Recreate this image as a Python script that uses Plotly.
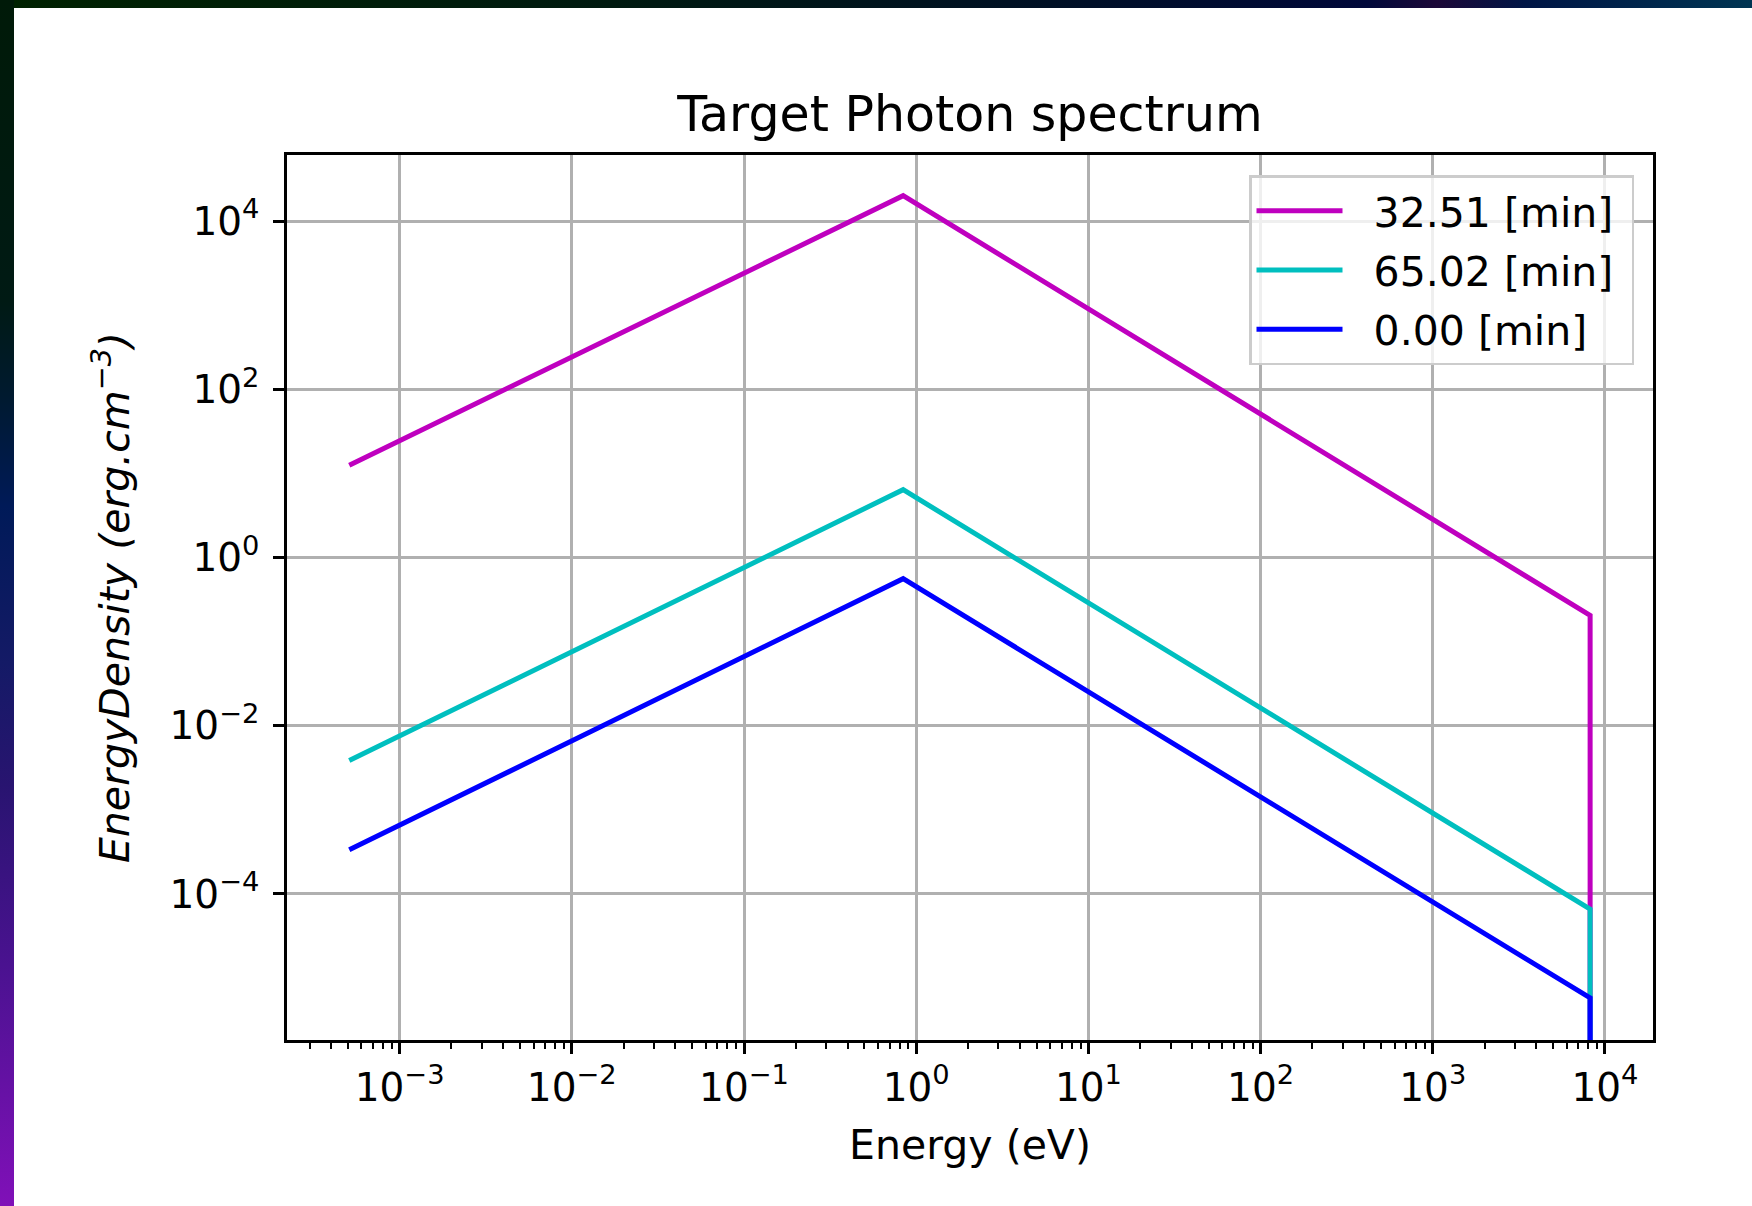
import base64
import plotly.graph_objects as go

# ---------------- data ----------------
energy_eV = [5.1e-4, 0.84, 8.2e3, 8.2e3]          # break points of the spectra
FLOOR = 1e-12                                    # spectra drop to ~0 beyond the cut-off
density_32_51 = [12.5, 2.0e4, 0.205, FLOOR]
density_65_02 = [3.85e-3, 6.4, 6.6e-5, FLOOR]
density_0_00 = [3.35e-4, 0.56, 5.8e-6, FLOOR]

series_names = ["32.51 [min]", "65.02 [min]", "0.00 [min]"]
series_values = [density_32_51, density_65_02, density_0_00]
series_colors = ["#bf00bf", "#00bfbf", "#0000ff"]

x_tick_vals = [1e-3, 1e-2, 1e-1, 1e0, 1e1, 1e2, 1e3, 1e4]
x_tick_text = ["10<sup>−3</sup>", "10<sup>−2</sup>", "10<sup>−1</sup>", "10<sup>0</sup>",
               "10<sup>1</sup>", "10<sup>2</sup>", "10<sup>3</sup>", "10<sup>4</sup>"]
y_tick_vals = [1e-4, 1e-2, 1e0, 1e2, 1e4]
y_tick_text = ["10<sup>−4</sup>", "10<sup>−2</sup>", "10<sup>0</sup>", "10<sup>2</sup>", "10<sup>4</sup>"]
x_minor_vals = [m * 10.0 ** e for e in range(-4, 5) for m in range(2, 10)]

# ---------------- layout geometry ----------------
W, H = 1752, 1206
ML, MR, MT, MB = 287, 99, 155, 166
PW, PH = W - ML - MR, H - MT - MB

FONT = "DejaVu Sans"
TICK_SIZE = 39
LABEL_SIZE = 41
TITLE_SIZE = 49

fig = go.Figure()
for i, (name, vals, col) in enumerate(zip(series_names, series_values, series_colors)):
    fig.add_trace(go.Scatter(
        x=energy_eV, y=vals, mode="lines", name="\u00a0\u00a0" + name + "\u00a0",
        legendgroup=f"g{i}", line=dict(color=col, width=5),
    ))

# decorative dark gradient frame around the screenshot
svg = f'''<svg xmlns="http://www.w3.org/2000/svg" width="{W}" height="{H}" viewBox="0 0 {W} {H}" preserveAspectRatio="none">
<defs>
<linearGradient id="t" x1="0" y1="0" x2="1" y2="0">
<stop offset="0" stop-color="#002200"/><stop offset="0.35" stop-color="#001a10"/>
<stop offset="0.6" stop-color="#001025"/><stop offset="0.78" stop-color="#00083a"/>
<stop offset="0.82" stop-color="#1c0838"/><stop offset="0.87" stop-color="#001545"/>
<stop offset="1" stop-color="#003552"/></linearGradient>
<linearGradient id="l" x1="0" y1="0" x2="0" y2="1">
<stop offset="0" stop-color="#001a08"/><stop offset="0.25" stop-color="#001a14"/>
<stop offset="0.33" stop-color="#001a30"/><stop offset="0.42" stop-color="#001a58"/>
<stop offset="0.55" stop-color="#141a66"/><stop offset="0.65" stop-color="#281470"/>
<stop offset="0.8" stop-color="#4a1290"/><stop offset="1" stop-color="#8010b8"/></linearGradient>
</defs>
<rect x="0" y="0" width="{W}" height="8" fill="url(#t)"/>
<rect x="0" y="0" width="14" height="{H}" fill="url(#l)"/>
</svg>'''
src = "data:image/svg+xml;base64," + base64.b64encode(svg.encode()).decode()
fig.add_layout_image(dict(
    source=src, xref="paper", yref="paper",
    x=-ML / PW, y=1 + MT / PH, sizex=W / PW, sizey=H / PH,
    xanchor="left", yanchor="top", sizing="stretch", layer="below",
))

axis_common = dict(
    type="log", showline=True, linecolor="black", linewidth=2.6, mirror=True,
    showgrid=True, gridcolor="#b0b0b0", gridwidth=2.6, zeroline=False,
    ticks="outside", ticklen=11, tickwidth=2.6, tickcolor="black",
    tickfont=dict(family=FONT, size=TICK_SIZE, color="black"),
)

fig.update_xaxes(
    **axis_common, range=[-3.654, 4.279], tickmode="array",
    tickvals=x_tick_vals, ticktext=x_tick_text,
    minor=dict(tickmode="array", tickvals=x_minor_vals, ticks="outside",
               ticklen=6.5, tickwidth=1.9, tickcolor="black", showgrid=False),
    title=dict(text="Energy (eV)", font=dict(family=FONT, size=LABEL_SIZE, color="black"), standoff=22),
)
fig.update_yaxes(
    **axis_common, range=[-5.736, 4.785], tickmode="array",
    tickvals=y_tick_vals, ticktext=y_tick_text, ticklabelstandoff=6,
    title=dict(text="<i>EnergyDensity (erg.cm<sup>−3</sup>)</i>",
               font=dict(family=FONT, size=LABEL_SIZE, color="black"), standoff=28),
)

fig.update_layout(
    width=W, height=H, margin=dict(l=ML, r=MR, t=MT, b=MB, autoexpand=False),
    paper_bgcolor="white", plot_bgcolor="white",
    font=dict(family=FONT, color="black"),
    title=dict(text="Target Photon spectrum", font=dict(family=FONT, size=TITLE_SIZE, color="black"),
               x=0.5, xref="paper", xanchor="center", y=1 - 114 / H, yref="container",
               yanchor="middle"),
    showlegend=True,
    legend=dict(
        x=(1634 - ML) / PW, y=1 - (175 - MT) / PH, xanchor="right", yanchor="top",
        bgcolor="rgba(255,255,255,0.8)", bordercolor="#cccccc", borderwidth=2.5,
        font=dict(family=FONT, size=LABEL_SIZE, color="black"),
        itemwidth=86, tracegroupgap=3, traceorder="grouped",
    ),
)

fig.write_html("out.html")
